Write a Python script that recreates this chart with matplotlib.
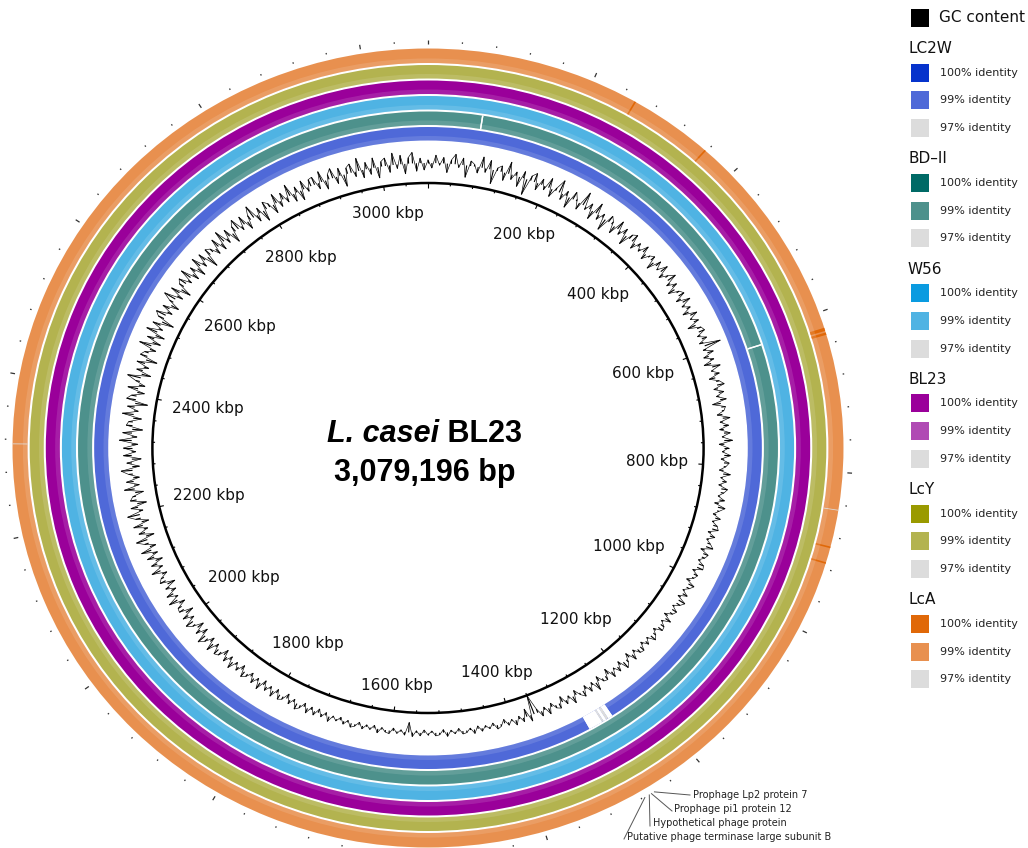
import numpy as np
import matplotlib
matplotlib.use("Agg")
import matplotlib.pyplot as plt
from matplotlib.patches import Wedge, Rectangle, Circle
from matplotlib.collections import LineCollection

# ---------------- data ----------------
genome_length_bp = 3079196
genome_species = "L. casei"
genome_strain = " BL23"
genome_size_label = "3,079,196 bp"

scale_labels_kbp = [200, 400, 600, 800, 1000, 1200, 1400, 1600, 1800,
                    2000, 2200, 2400, 2600, 2800, 3000]
minor_tick_kbp = 40
major_tick_kbp = 200

ring_names = ["LC2W", "BD-II", "W56", "BL23", "LcY", "LcA"]   # inner -> outer
identity_levels = ["100% identity", "99% identity", "97% identity"]
colors_100 = ["#0633cc", "#006a66", "#0a9be0", "#9a009a", "#9a9a00", "#e06808"]
colors_99 = ["#4f69d8", "#4d918c", "#4fb3e3", "#b04ab4", "#b3b34f", "#e8904f"]
color_97 = "#dcdcdc"
ring_base_level = [99, 99, 99, 100, 99, 99]

# (start_kbp, end_kbp, level) ; level 0 = no hit
ring_segments = [
    [(1253, 1260, 0), (1260, 1264, 97), (1264, 1268, 0), (1268, 1271, 97), (1271, 1292, 0)],
    [(76, 78, 0), (616, 618, 0)],
    [],
    [],
    [],
    [(255, 257, 100), (357, 359, 100), (620, 624, 100), (626, 629, 100),
     (846, 847, 97), (892, 894, 100), (912, 914, 100), (2314, 2315, 97)],
]

# GC content deviation from mean (evenly spaced along the genome)
gc_deviation = [
    3, -5, 8, -2, 6, -9, 4, 10, -3, 7, -12, 5, 2, -6, 11, -4, 9, -14, 3, 6, -8, 12, -5, 4, -10, 7, -16, 5, 9, -7,
    6, -4, 10, -8, 3, 13, -6, 5, -11, 8, 2, -7, 14, -3, 6, -9, 11, -5, 4, -12, 7, 3, -8, 9, -4, 6, -10, 5, 8, -6,
    4, -3, 7, -6, 2, 5, -8, 6, -2, 8, -5, 3, 9, -4, 5, -7, 3, 6, -5, 8, -3, 4, -6, 7, -2, 5, -8, 4, 6, -3,
    5, -4, 16, -3, 6, -5, 4, -7, 8, -2, 5, -6, 3, 7, -4, 5, -3, 6, -8, 4, 2, -5, 7, -3, 5, -4, 6, -2, 8, -5,
    4, -2, 6, -3, 5, 2, -4, 7, -2, 4, -3, 6, 3, -2, 5, -4, 7, 2, -3, 5, -2, 4, 6, -3, 5, -2, 3, 7, -4, 5,
    3, -2, 5, 6, -3, 4, 2, -4, 6, 3, -2, 5, -3, 7, 4, -2, 5, 3, -4, 6, -2, 4, 5, -3, 3, 6, -2, 4, -3, 5,
    4, -3, 6, -5, 3, 7, -4, 5, -2, 6, -6, 4, 3, -5, 8, -3, 5, -4, 6, 2, -5, 7, -3, 4, -6, 5, 3, -4, 6, -3,
    5, -4, -20, 6, -8, 4, -3, 5, -2, 3, -4, 2, 4, -3, 2, -2, 3, -3, 4, -2, 2, 3, -3, 2, -2, 4, -3, 2, 3, -2,
    2, -3, 3, -2, 4, -10, 3, -2, 2, -3, 3, 2, -2, 4, -3, 2, -2, 3, -3, 2, 4, -2, 3, -3, 2, -2, 5, -3, 3, -4,
    4, -3, 5, -4, 3, 6, -3, 4, -5, 3, 5, -4, 6, -3, 4, -5, 7, -3, 5, -4, 3, 6, -5, 4, -3, 7, -4, 5, -6, 4,
    6, -4, 8, -5, 4, 9, -6, 5, -7, 3, 8, -4, 6, -8, 5, 4, -6, 9, -3, 7, -5, 4, -8, 6, 3, -5, 9, -4, 6, -7,
    7, -5, 10, -6, 4, 11, -8, 6, -4, 9, -7, 5, 12, -4, 7, -9, 6, 3, -8, 10, -5, 7, -6, 4, 11, -7, 5, -9, 8, -4,
    8, -6, 12, -5, 9, -10, 6, 4, -8, 11, -4, 7, -12, 9, 5, -7, 10, -6, 4, 13, -9, 6, -5, 8, -11, 7, 4, -6, 12, -8,
    7, -9, 11, -4, 8, -12, 6, 10, -5, 7, -8, 4, 12, -6, 9, -10, 5, 8, -4, 11, -7, 6, -9, 10, -5, 8, -12, 7, 4, -6,
    9, -7, 12, -5, 8, -10, 6, 11, -4, 9, -8, 5, 13, -7, 6, -11, 8, 4, -9, 10, -6, 7, -5, 12, -8, 6, -10, 9, -4, 7,
    8, -6, 11, -9, 5, 10, -7, 8, -12, 6, 9, -5, 13, -8, 7, -6, 10, -11, 5, 8, -7, 12, -4, 9, -10, 6, 11, -8, 5, -7,
]

annotation_kbp = [1263, 1267, 1270, 1276]
annotation_text = ["Prophage Lp2 protein 7", "Prophage pi1 protein 12",
                   "Hypothetical phage protein", "Putative phage terminase large subunit B"]

# ---------------- layout ----------------
W, H = 1028, 848
CX, CY, SX = 428, 448, 1.04
GK = genome_length_bp / 1000.0
R_SCALE = 265
R_GC = 285
RING_IN = [307.5, 323, 338.5, 354, 369.5, 385]
RING_W = [13.5, 13.5, 13.5, 13.5, 13.5, 14.5]

fig = plt.figure(figsize=(W / 100, H / 100), dpi=100)
ax = fig.add_axes([0, 0, 1, 1])
ax.set_xlim(-CX / SX, (W - CX) / SX)
ax.set_ylim(-(H - CY), CY)
ax.axis("off")

ax2 = fig.add_axes([0, 0, 1, 1])
ax2.set_xlim(0, W)
ax2.set_ylim(H, 0)
ax2.axis("off")
ax2.patch.set_alpha(0)


def ang(kbp):
    return np.deg2rad(np.asarray(kbp) / GK * 360.0)


def pol(kbp, r):
    a = ang(kbp)
    return r * np.sin(a), r * np.cos(a)


def arc(a_kbp, b_kbp, r_in, r_out, color, alpha=1.0):
    t1 = 90 - b_kbp / GK * 360.0
    t2 = 90 - a_kbp / GK * 360.0
    ax.add_patch(Wedge((0, 0), r_out, t1, t2, width=r_out - r_in,
                       facecolor=color, edgecolor="none", lw=0, alpha=alpha))


def level_color(i, lev):
    if lev == 100:
        return colors_100[i]
    if lev == 99:
        return colors_99[i]
    if lev == 97:
        return color_97
    return "white"


# rings
for i in range(len(ring_names)):
    r0, w = RING_IN[i], RING_W[i]
    ax.add_patch(Wedge((0, 0), r0 + w, 0, 360, width=w,
                       facecolor=level_color(i, ring_base_level[i]), edgecolor="none", lw=0))
    for (a, b, lev) in ring_segments[i]:
        arc(a, b, r0, r0 + w, level_color(i, lev))
    # soft tube-like highlight
    ax.add_patch(Wedge((0, 0), r0 + 4.5, 0, 360, width=4.5, facecolor="white",
                       edgecolor="none", alpha=0.12))
    for (a, b, lev) in ring_segments[i]:
        if lev == 0:
            arc(a, b, r0, r0 + w, "white")

# GC content
n = len(gc_deviation)
pos = np.arange(n + 1) * GK / n
dev = np.array(gc_deviation + gc_deviation[:1], dtype=float)
gx, gy = pol(pos, R_GC + dev)
ax.plot(gx, gy, color="black", lw=0.45)
bars = []
for k, v in zip(pos[:-1], gc_deviation):
    x0, y0 = pol(k, R_GC)
    x1, y1 = pol(k, R_GC + v)
    bars.append([(x0, y0), (x1, y1)])
ax.add_collection(LineCollection(bars, colors="black", linewidths=0.8))

# scale circle
ax.add_patch(Circle((0, 0), R_SCALE, fill=False, edgecolor="black", lw=1.8))
ticks = np.arange(0, GK, minor_tick_kbp)
segs = []
for k in ticks:
    ln = 4.5 if abs(k % major_tick_kbp) < 1e-6 else 2.5
    x0, y0 = pol(k, R_SCALE)
    x1, y1 = pol(k, R_SCALE - ln)
    segs.append([(x0, y0), (x1, y1)])
ax.add_collection(LineCollection(segs, colors="black", linewidths=0.8))

# outer ticks
segs = []
for k in ticks:
    major = abs(k % major_tick_kbp) < 1e-6
    r_a, r_b = (404, 408.5) if major else (405.5, 407)
    x0, y0 = pol(k, r_a)
    x1, y1 = pol(k, r_b)
    segs.append([(x0, y0), (x1, y1)])
ax.add_collection(LineCollection(segs, colors="#333333", linewidths=0.9))

# scale labels
renderer = fig.canvas.get_renderer()
for k in scale_labels_kbp:
    t = ax.text(0, 0, f"{k} kbp", fontsize=11, ha="center", va="center",
                family="DejaVu Sans", color="#111111")
    bb = t.get_window_extent(renderer)
    a = ang(k)
    inset = (bb.width / 2) * abs(np.sin(a)) / SX + (bb.height / 2) * abs(np.cos(a))
    t.set_position(pol(k, 251 - inset))

# center title
cx_title = 424.5
t1 = ax2.text(0, 442, genome_species, fontsize=22, style="italic", weight="bold",
              family="Liberation Sans", va="baseline", ha="left")
t2 = ax2.text(0, 442, genome_strain, fontsize=22, weight="bold",
              family="Liberation Sans", va="baseline", ha="left")
w1 = t1.get_window_extent(renderer).width
w2 = t2.get_window_extent(renderer).width
x_start = cx_title - (w1 + w2) / 2
t1.set_x(x_start)
t2.set_x(x_start + w1)
ax2.text(cx_title, 481, genome_size_label, fontsize=22, weight="bold",
         family="Liberation Sans", va="baseline", ha="center")

# annotations
ann_text_pos = [(693, 795), (674, 809), (653, 823), (627, 837)]
ann_line_end = [(690, 795), (672, 811), (650, 826), (624, 839)]
for k, txt, (tx, ty), (ex, ey) in zip(annotation_kbp, annotation_text, ann_text_pos, ann_line_end):
    ox, oy = pol(k, 407)
    px, py = CX + ox * SX, CY - oy
    ax2.plot([px, ex], [py, ey], color="#555555", lw=0.7)
    ax2.text(tx, ty, txt, fontsize=7, va="center", ha="left", color="#222222",
             family="DejaVu Sans")

# legend
LX = 911
ax2.add_patch(Rectangle((LX, 8.5), 18, 18, facecolor="black", edgecolor="none"))
ax2.text(939, 17.5, "GC content", fontsize=11, va="center", ha="left", color="#111111")
for g, name in enumerate(ring_names):
    y100 = 72.5 + 110.3 * g
    ax2.text(908, y100 - 24, name.replace("-", "\u2013"), fontsize=11, va="center",
             ha="left", color="#111111")
    cols = [colors_100[g], colors_99[g], color_97]
    for j, (lab, c) in enumerate(zip(identity_levels, cols)):
        yc = y100 + 27.7 * j
        ax2.add_patch(Rectangle((LX, yc - 9), 18, 18, facecolor=c, edgecolor="none"))
        ax2.text(940, yc, lab, fontsize=8, va="center", ha="left", color="#222222")

fig.savefig("out.png", dpi=100)
